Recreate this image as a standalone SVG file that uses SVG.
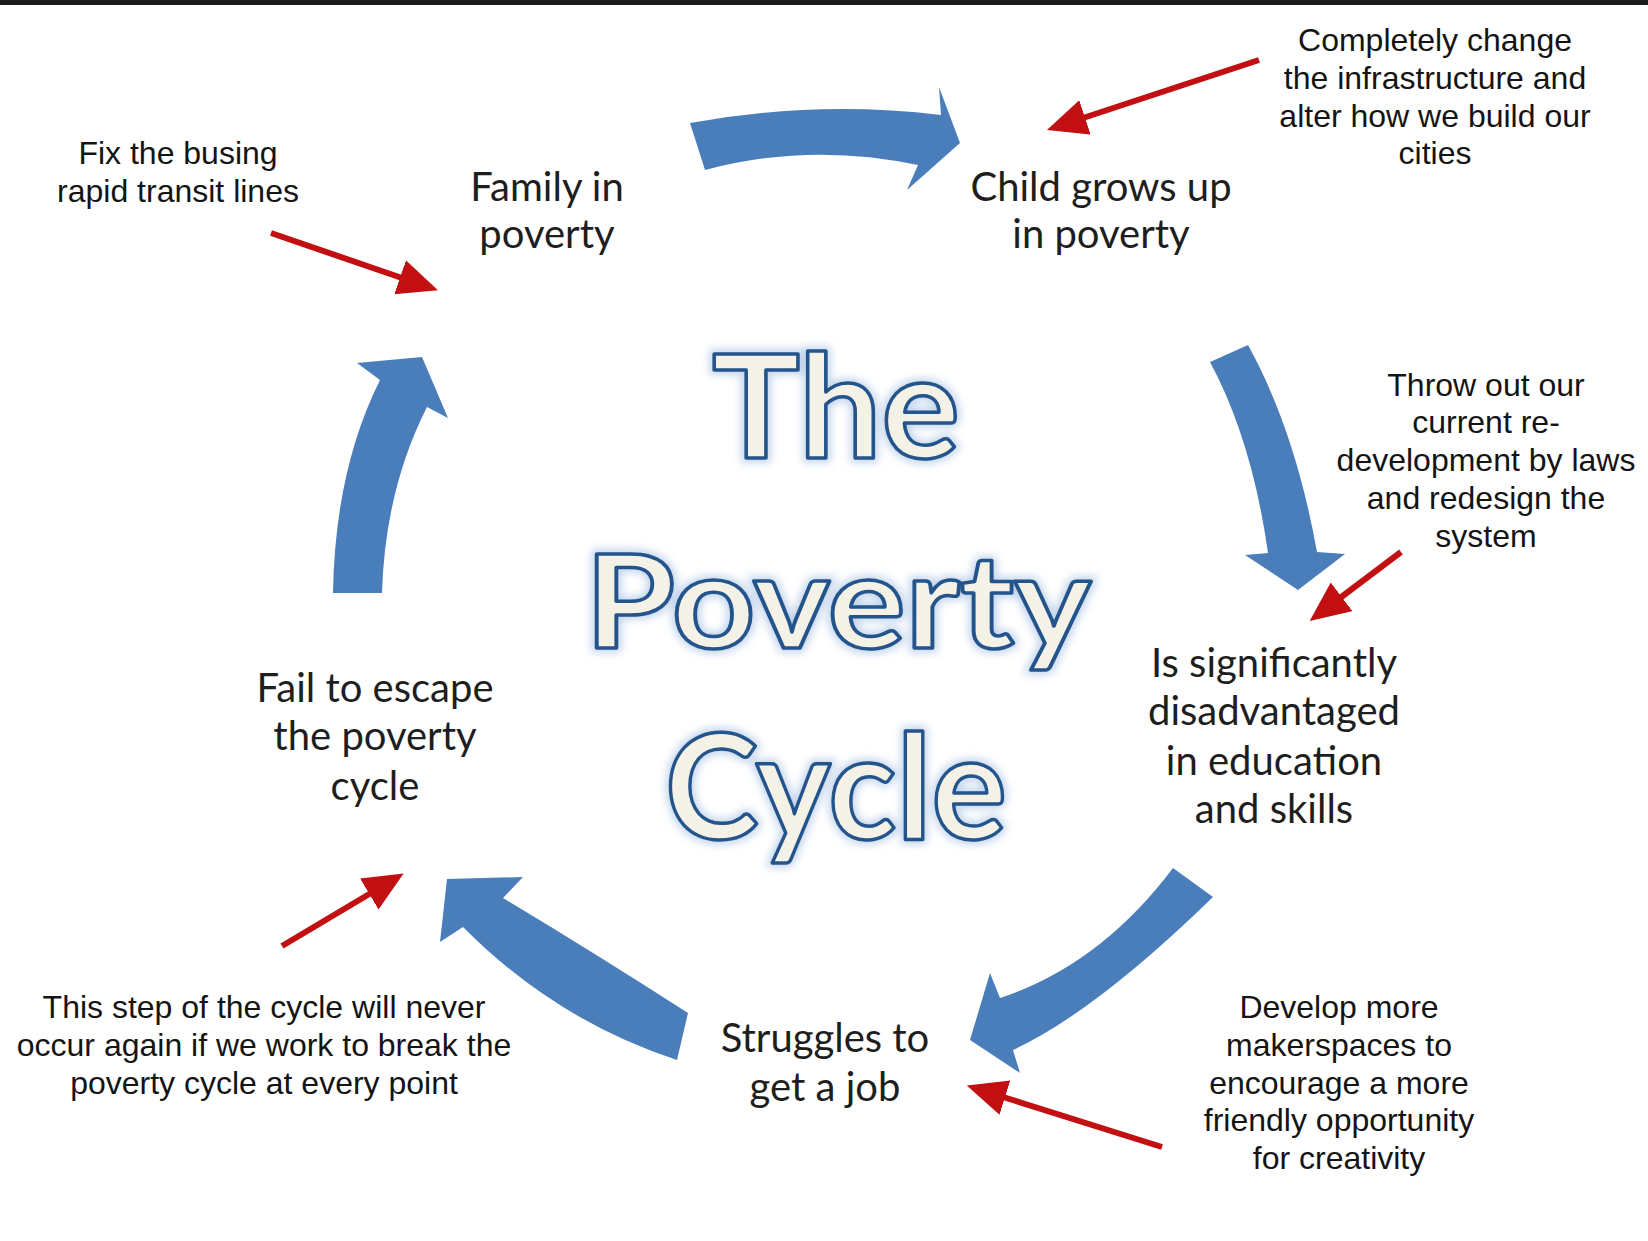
<svg xmlns="http://www.w3.org/2000/svg" width="1648" height="1241" viewBox="0 0 1648 1241">
<defs>
<style>
.node{font-family:Lato,"Liberation Sans",sans-serif;font-size:40px;fill:#1e1e1e;text-anchor:middle}
.note{font-family:"Liberation Sans",Arial,sans-serif;font-size:32px;fill:#141414;text-anchor:middle}
.cyc{fill:#4a7ebb}
.red{stroke:#c20f12;stroke-width:6;fill:none;marker-end:url(#rh)}
.title{font-family:Lato,"Liberation Sans",sans-serif;font-weight:700;text-anchor:middle}
.tglow{fill:#8fb0db;stroke:#8fb0db;stroke-width:9;opacity:.55;filter:url(#glow)}
.tmain{fill:#f4f1e7;stroke:#24548c;stroke-width:3.5;stroke-linejoin:round}
</style>
<marker id="rh" markerUnits="userSpaceOnUse" markerWidth="44" markerHeight="40" refX="2" refY="18" orient="auto" viewBox="0 0 44 40">
<path d="M0,0 L40,18 L0,36 Z" fill="#c20f12"/>
</marker>
<filter id="glow" x="-20%" y="-20%" width="140%" height="140%">
<feGaussianBlur stdDeviation="4"/>
</filter>
</defs>
<rect x="0" y="0" width="1648" height="1241" fill="#ffffff"/>
<rect x="0" y="0" width="1648" height="5" fill="#1c1c1c"/>

<g id="title" class="title">
<text x="836" y="458" font-size="143" class="tglow" textLength="248" lengthAdjust="spacingAndGlyphs">The</text>
<text x="836" y="458" font-size="143" class="tmain" textLength="248" lengthAdjust="spacingAndGlyphs">The</text>
<text x="838" y="648" font-size="131" class="tglow" textLength="506" lengthAdjust="spacingAndGlyphs">Poverty</text>
<text x="838" y="648" font-size="131" class="tmain" textLength="506" lengthAdjust="spacingAndGlyphs">Poverty</text>
<text x="836" y="839" font-size="146" class="tglow" textLength="342" lengthAdjust="spacingAndGlyphs">Cycle</text>
<text x="836" y="839" font-size="146" class="tmain" textLength="342" lengthAdjust="spacingAndGlyphs">Cycle</text>
</g>

<g id="connectors">
<path id="c1" class="cyc" d="M690,123 Q815,100 941,115 L939,87 L960,143 L907,190 L918,165 Q810,142 705,170 Z"/>
<path id="c2" class="cyc" d="M1210,362 L1248,345 Q1295,430 1317,552 L1345,554 L1298,590 L1245,555 L1268,553 Q1252,440 1210,362 Z"/>
<path id="c3" class="cyc" d="M1173,868 Q1100,965 1000,998 L990,973 L970,1040 L1020,1073 L1013,1050 Q1095,1012 1213,897 Z"/>
<path id="c4" class="cyc" d="M688,1013 Q590,950 503,898 L523,877 L447,879 L440,942 L463,927 Q555,1020 677,1060 Z"/>
<path id="c5" class="cyc" d="M333,593 Q335,470 380,380 L357,363 L422,357 L448,418 L427,407 Q385,490 382,593 Z"/>
<line id="r1" class="red" x1="271" y1="233" x2="402" y2="278"/>
<line id="r2" class="red" x1="1259" y1="60" x2="1083" y2="118"/>
<line id="r3" class="red" x1="1401" y1="552" x2="1340" y2="598"/>
<line id="r4" class="red" x1="1162" y1="1147" x2="1003" y2="1097"/>
<line id="r5" class="red" x1="282" y1="946" x2="371" y2="893"/>
</g>

<g id="n-family"><text class="node" x="547" y="201">Family in</text><text class="node" x="547" y="248">poverty</text></g>
<g id="n-child"><text class="node" x="1101" y="201">Child grows up</text><text class="node" x="1101" y="248">in poverty</text></g>
<g id="n-education"><text class="node" x="1274" y="677">Is significantly</text><text class="node" x="1274" y="725">disadvantaged</text><text class="node" x="1274" y="775">in education</text><text class="node" x="1274" y="823">and skills</text></g>
<g id="n-job"><text class="node" x="825" y="1052">Struggles to</text><text class="node" x="825" y="1101">get a job</text></g>
<g id="n-fail"><text class="node" x="375" y="702">Fail to escape</text><text class="node" x="375" y="750">the poverty</text><text class="node" x="375" y="800">cycle</text></g>

<g id="a-busing"><text class="note" x="178" y="164" font-size="31">Fix the busing</text><text class="note" x="178" y="202" font-size="31">rapid transit lines</text></g>
<g id="a-infra"><text class="note" x="1435" y="51">Completely change</text><text class="note" x="1435" y="89">the infrastructure and</text><text class="note" x="1435" y="127">alter how we build our</text><text class="note" x="1435" y="164">cities</text></g>
<g id="a-laws"><text class="note" x="1486" y="396">Throw out our</text><text class="note" x="1486" y="433">current re-</text><text class="note" x="1486" y="471">development by laws</text><text class="note" x="1486" y="509">and redesign the</text><text class="note" x="1486" y="547">system</text></g>
<g id="a-maker"><text class="note" x="1339" y="1018">Develop more</text><text class="note" x="1339" y="1056">makerspaces to</text><text class="note" x="1339" y="1094">encourage a more</text><text class="note" x="1339" y="1131">friendly opportunity</text><text class="note" x="1339" y="1169">for creativity</text></g>
<g id="a-break"><text class="note" x="264" y="1018">This step of the cycle will never</text><text class="note" x="264" y="1056">occur again if we work to break the</text><text class="note" x="264" y="1094">poverty cycle at every point</text></g>
</svg>
